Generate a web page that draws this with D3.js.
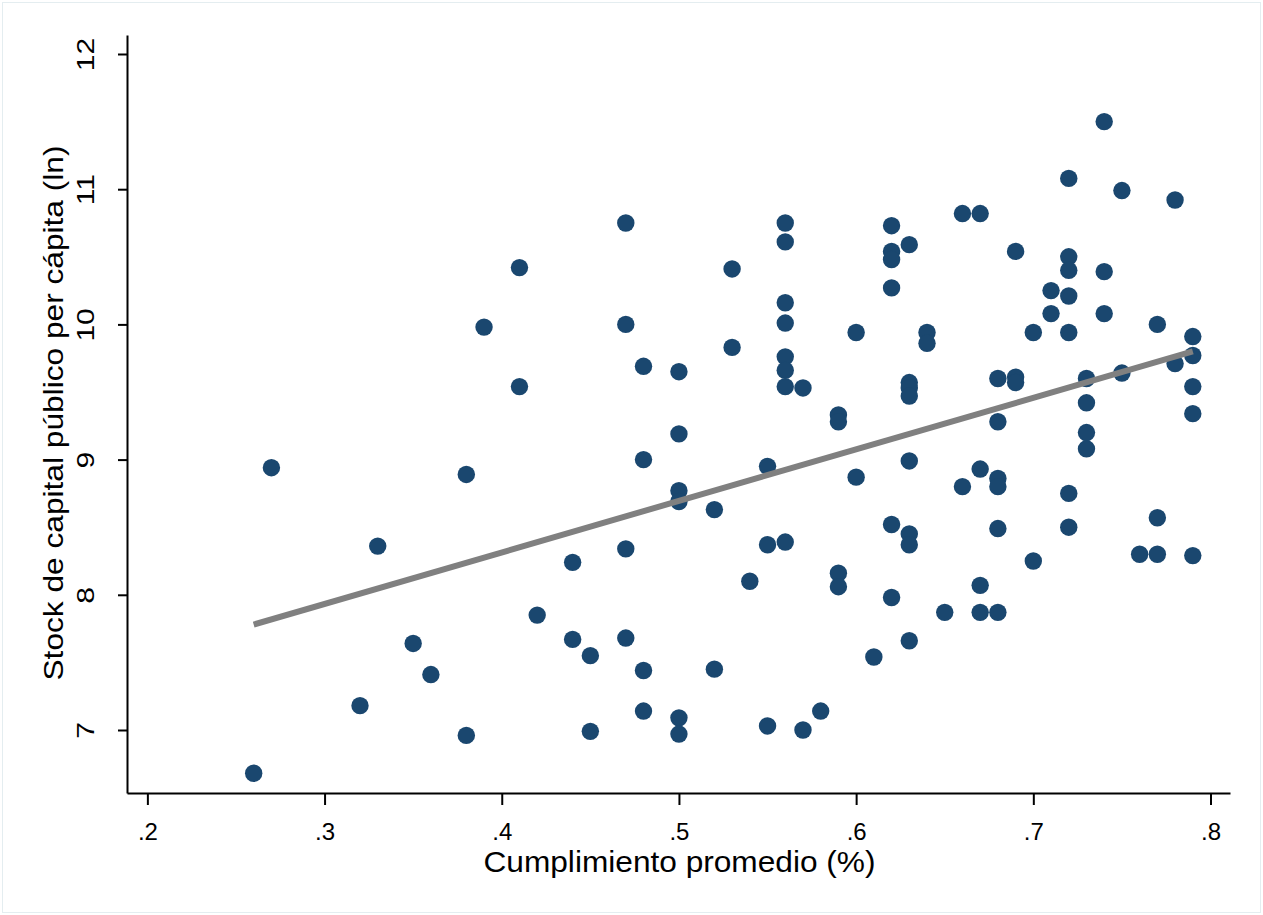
<!DOCTYPE html>
<html>
<head>
<meta charset="utf-8">
<script src="https://cdn.jsdelivr.net/npm/d3@7"></script>
<style>
  html, body { margin: 0; padding: 0; background: #ffffff; }
  svg { display: block; }
  text { font-family: "Liberation Sans", Arial, Helvetica, sans-serif; fill: #000; }
</style>
</head>
<body>
<svg id="chart" width="1263" height="915"></svg>
<script>
// ---- data ----
const cumplimiento = [
  0.26, 0.27, 0.32, 0.33, 0.35, 0.36, 0.38, 0.38, 0.39, 0.41, 0.41, 0.42, 0.44, 0.44, 0.45, 0.45,
  0.47, 0.47, 0.47, 0.47, 0.48, 0.48, 0.48, 0.48,
  0.50, 0.50, 0.50, 0.50, 0.50, 0.50, 0.52, 0.52, 0.53, 0.53, 0.54, 0.55, 0.55, 0.55,
  0.56, 0.56, 0.56, 0.56, 0.56, 0.56, 0.56, 0.56, 0.57, 0.57, 0.58,
  0.59, 0.59, 0.59, 0.59, 0.60, 0.60, 0.61,
  0.62, 0.62, 0.62, 0.62, 0.62, 0.62,
  0.63, 0.63, 0.63, 0.63, 0.63, 0.63, 0.63, 0.63,
  0.64, 0.64, 0.65, 0.66, 0.66, 0.67, 0.67, 0.67, 0.67,
  0.68, 0.68, 0.68, 0.68, 0.68, 0.68, 0.69, 0.69, 0.69, 0.70, 0.70, 0.71, 0.71,
  0.72, 0.72, 0.72, 0.72, 0.72, 0.72, 0.72,
  0.73, 0.73, 0.73, 0.73, 0.74, 0.74, 0.74, 0.75, 0.75, 0.76, 0.77, 0.77, 0.77, 0.78, 0.78,
  0.79, 0.79, 0.79, 0.79, 0.79
];
const stockCapital = [
  6.68, 8.94, 7.18, 8.36, 7.64, 7.41, 8.89, 6.96, 9.98, 10.42, 9.54, 7.85, 8.24, 7.67, 7.55, 6.99,
  10.75, 10.00, 8.34, 7.68, 9.69, 9.00, 7.44, 7.14,
  9.65, 9.19, 8.77, 8.69, 7.09, 6.97, 8.63, 7.45, 10.41, 9.83, 8.10, 8.95, 8.37, 7.03,
  10.75, 10.61, 10.16, 10.01, 9.76, 9.66, 9.54, 8.39, 9.53, 7.00, 7.14,
  9.33, 9.28, 8.16, 8.06, 9.94, 8.87, 7.54,
  10.73, 10.54, 10.48, 10.27, 8.52, 7.98,
  10.59, 9.57, 9.53, 9.47, 8.99, 8.45, 8.37, 7.66,
  9.94, 9.86, 7.87, 10.82, 8.80, 10.82, 8.93, 8.07, 7.87,
  9.60, 9.28, 8.86, 8.80, 8.49, 7.87, 10.54, 9.61, 9.57, 9.94, 8.25, 10.25, 10.08,
  11.08, 10.50, 10.40, 10.21, 9.94, 8.75, 8.50,
  9.60, 9.42, 9.20, 9.08, 11.50, 10.39, 10.08, 10.99, 9.64, 8.30, 10.00, 8.57, 8.30, 10.92, 9.71,
  9.91, 9.77, 9.54, 9.34, 8.29
];
// fitted line end points
const fitX = [0.26, 0.79];
const fitY = [7.78, 9.80];

// axis extents and tick labels
const xExtent = [0.1885, 0.811];
const yExtent = [6.534, 12.1405];
const xTicks = [0.2, 0.3, 0.4, 0.5, 0.6, 0.7, 0.8];
const xTickLabels = [".2", ".3", ".4", ".5", ".6", ".7", ".8"];
const yTicks = [7, 8, 9, 10, 11, 12];
const yTickLabels = ["7", "8", "9", "10", "11", "12"];

const xTitle = "Cumplimiento promedio (%)";
const yTitle = "Stock de capital público per cápita (ln)";

// ---- layout ----
const L = 127, R = 1230, T = 35, B = 793;
const svg = d3.select("#chart");

svg.append("rect")
  .attr("x", 2.5).attr("y", 2.5).attr("width", 1258).attr("height", 910)
  .attr("fill", "#ffffff").attr("stroke", "#e4edf0").attr("stroke-width", 1);

const x = d3.scaleLinear().domain(xExtent).range([L, R]);
const y = d3.scaleLinear().domain(yExtent).range([B, T]);

const points = cumplimiento.map((v, i) => ({ x: v, y: stockCapital[i] }));

// scatter
svg.append("g")
  .selectAll("circle")
  .data(points)
  .join("circle")
  .attr("cx", d => x(d.x))
  .attr("cy", d => y(d.y))
  .attr("r", 8.7)
  .attr("fill", "#1a476f");

// fitted line
const fitData = fitX.map((v, i) => ({ x: v, y: fitY[i] }));
svg.append("path")
  .datum(fitData)
  .attr("d", d3.line().x(d => x(d.x)).y(d => y(d.y)))
  .attr("fill", "none")
  .attr("stroke", "#808080")
  .attr("stroke-width", 6);

// x axis
const xAxis = svg.append("g")
  .attr("transform", `translate(0,${B})`)
  .call(d3.axisBottom(x).tickValues(xTicks).tickSizeInner(12).tickSizeOuter(0)
        .tickFormat((d, i) => xTickLabels[i]).tickPadding(6));
xAxis.select(".domain").attr("stroke", "#000").attr("stroke-width", 2);
xAxis.selectAll(".tick line").attr("stroke", "#000").attr("stroke-width", 2);
xAxis.selectAll(".tick text")
  .attr("font-size", 24)
  .attr("font-family", "'Liberation Sans', Arial, sans-serif")
  .attr("fill", "#000")
  .attr("dy", null)
  .attr("y", 47);

// y axis
const yAxis = svg.append("g")
  .attr("transform", `translate(${L},0)`)
  .call(d3.axisLeft(y).tickValues(yTicks).tickSizeInner(9).tickSizeOuter(0)
        .tickFormat((d, i) => yTickLabels[i]));
yAxis.select(".domain").attr("stroke", "#000").attr("stroke-width", 2);
yAxis.selectAll(".tick line").attr("stroke", "#000").attr("stroke-width", 2);
yAxis.selectAll(".tick text")
  .attr("font-size", 24)
  .attr("font-family", "'Liberation Sans', Arial, sans-serif")
  .attr("fill", "#000")
  .attr("x", null).attr("dy", null)
  .attr("text-anchor", "middle")
  .attr("transform", "translate(-33,0) rotate(-90) scale(1.25,1)");

// axis titles
svg.append("text")
  .attr("x", (L + R) / 2 + 1)
  .attr("y", 872)
  .attr("text-anchor", "middle")
  .attr("font-size", 30)
  .attr("textLength", 392)
  .attr("lengthAdjust", "spacingAndGlyphs")
  .text(xTitle);

svg.append("text")
  .attr("transform", `translate(63,${(T + B) / 2 - 1}) rotate(-90)`)
  .attr("text-anchor", "middle")
  .attr("font-size", 28)
  .attr("textLength", 535)
  .attr("lengthAdjust", "spacingAndGlyphs")
  .text(yTitle);
</script>
</body>
</html>
